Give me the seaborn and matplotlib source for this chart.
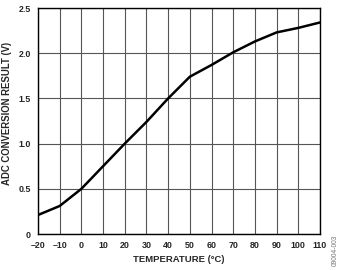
import matplotlib
matplotlib.use('Agg')
import matplotlib.pyplot as plt
import seaborn as sns
import pandas as pd

# 数据
temperature = [-20, -10, 0, 10, 20, 30, 40, 50, 60, 70, 80, 90, 100, 110]
adc_result = [0.21, 0.31, 0.50, 0.75, 1.00, 1.24, 1.50, 1.74, 1.87, 2.01, 2.13, 2.23, 2.28, 2.34]
x_ticks = list(range(-20, 111, 10))
y_ticks = [0, 0.5, 1.0, 1.5, 2.0, 2.5]
y_tick_labels = ['0', '0.5', '1.0', '1.5', '2.0', '2.5']

df = pd.DataFrame({'Temperature': temperature, 'ADC': adc_result})

sns.set_style('white')
plt.rcParams['font.family'] = ['Liberation Sans', 'DejaVu Sans']

fig = plt.figure(figsize=(3.42, 2.70), dpi=100)
ax = fig.add_axes([38 / 342, 1 - 234 / 270, (320 - 38) / 342, (234 - 8) / 270])

sns.lineplot(data=df, x='Temperature', y='ADC', ax=ax, color='black', linewidth=1.8)

ax.set_xlim(-20, 110)
ax.set_ylim(0, 2.5)
ax.set_xticks(x_ticks)
ax.set_xticklabels([str(t).replace('-', '\u2013') for t in x_ticks])
ax.set_yticks(y_ticks)
ax.set_yticklabels(y_tick_labels)
ax.grid(True, color='#555555', linewidth=0.8)
ax.set_axisbelow(True)

for spine in ax.spines.values():
    spine.set_color('black')
    spine.set_linewidth(1.0)

ax.tick_params(axis='both', length=0, pad=5, labelsize=6.4)
for lbl in ax.get_xticklabels() + ax.get_yticklabels():
    lbl.set_fontweight('bold')

ax.set_xlabel('TEMPERATURE (°C)', fontsize=6.8, fontweight='bold', labelpad=4)
ax.set_ylabel('ADC CONVERSION RESULT (V)', fontsize=6.9, fontweight='bold')
ax.yaxis.set_label_coords(-0.093, 0.533)

fig.text(335 / 342, 1 - 250 / 270, '09004-003', rotation=90, fontsize=4.8,
         color='#777777', ha='center', va='center')

plt.savefig('out.png', dpi=100)
plt.close()
